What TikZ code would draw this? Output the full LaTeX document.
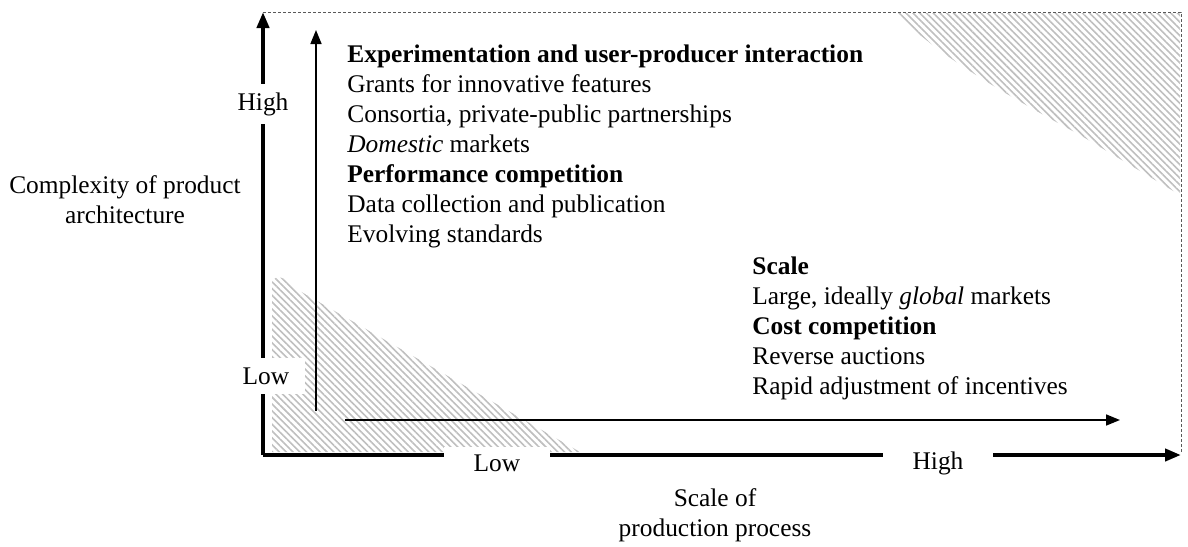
\documentclass[tikz,border=0pt]{standalone}
\usepackage{fontspec}
\setmainfont{Liberation Serif}
\usetikzlibrary{arrows.meta,patterns.meta}
\begin{document}
\begin{tikzpicture}[x=0.5pt,y=-0.5pt,
  axis/.style={line width=2pt,-{Triangle[length=8pt,width=6pt]}},
  thinarrow/.style={line width=0.8pt,-{Triangle[length=7pt,width=5.5pt]}},
  hatch/.style={pattern={Lines[angle=-45,distance=2.4pt,line width=0.8pt]},pattern color=gray!50},
  frame/.style={draw=gray!70!black,line width=0.5pt,dash pattern=on 1.5pt off 1pt},
  gap/.style={fill=white,inner ysep=4pt,font=\fontsize{12.7}{15}\selectfont},
  txt/.style={align=left,anchor=north west,inner sep=0pt,font=\fontsize{12.7}{15}\selectfont},
  lbl/.style={align=center,inner sep=0pt,font=\fontsize{12.7}{15}\selectfont}]
\useasboundingbox (0,0) rectangle (1188,546);
% hatched regions
\path[hatch] (272,452) -- (272,282) .. controls (276,274) and (284,276) .. (298,290) -- (580,452) -- cycle;
\path[hatch] (895,13) -- (1180,13) -- (1180,195) -- (1080,135) .. controls (960,70) and (930,45) .. cycle;
% coordinates
\coordinate (O) at (263,455);
\coordinate (Ytop) at (263,12);
\coordinate (Xend) at (1181,455);
\coordinate (TR) at (1181,12);
\coordinate (FB) at (1181,452);
\coordinate (v0) at (316,411);
\coordinate (v1) at (316,30);
\coordinate (h0) at (345,420);
\coordinate (h1) at (1120,420);
% frame
\draw[frame] (Ytop) -- (TR) -- (FB);
% axes
\draw[axis] (O) -- (Ytop);
\draw[axis] (O) -- (Xend);
\draw[thinarrow] (v0) -- (v1);
\draw[thinarrow] (h0) -- (h1);
% axis labels
\node[gap,inner xsep=3pt] (yhigh) at (263,104) {High};
\node[gap,inner xsep=8pt,inner ysep=5pt] (ylow) at (266,376) {Low};
\node[gap,inner xsep=15pt] (xlow) at (497,463) {Low};
\node[gap,inner xsep=15pt] (xhigh) at (938,463) {High};
% titles
\node[lbl] (ytitle) at (125,200) {Complexity of product\\architecture};
\node[lbl] (xtitle) at (715,515) {Scale of\\production process};
% text blocks
\node[txt] (topblock) at (347,44) {\textbf{Experimentation and user-producer interaction}\\
Grants for innovative features\\
Consortia, private-public partnerships\\
\textit{Domestic} markets\\
\textbf{Performance competition}\\
Data collection and publication\\
Evolving standards};
\node[txt] (botblock) at (752,256) {\textbf{Scale}\\
Large, ideally \textit{global} markets\\
\textbf{Cost competition}\\
Reverse auctions\\
Rapid adjustment of incentives};
\end{tikzpicture}
\end{document}
